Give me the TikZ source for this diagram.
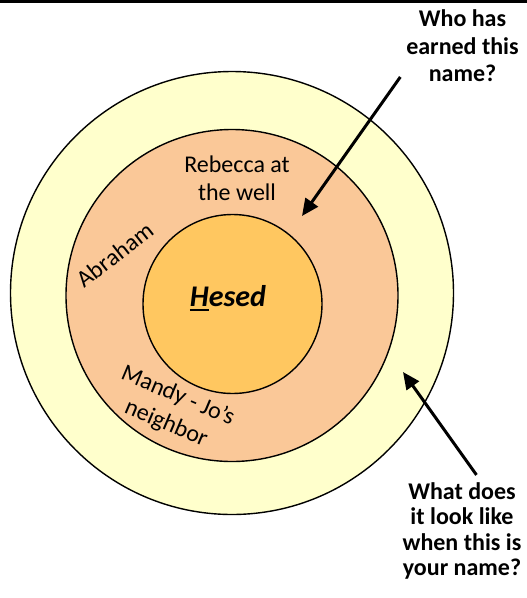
\documentclass[tikz,border=0pt]{standalone}
\usepackage{fontspec}
\setmainfont{Carlito}
\usepackage{tikz}
\usetikzlibrary{arrows.meta,positioning}
\definecolor{ringpale}{HTML}{FFFFCC}
\definecolor{ringpeach}{HTML}{FAC898}
\definecolor{ringgold}{HTML}{FFC760}
\newcommand{\thickul}[1]{{\setbox0\hbox{#1}\rlap{\rule[-5pt]{\wd0}{1.8pt}}#1}}

\begin{document}
\begin{tikzpicture}[x=1pt,y=-1pt,
  ring/.style={circle,draw=black,line width=1.4pt,inner sep=0pt},
  lbl/.style={font=\fontsize{24}{28}\selectfont,align=center,inner sep=0pt},
  ask/.style={font=\bfseries\fontsize{24}{27.5}\selectfont,align=center,inner sep=0pt},
  ar/.style={-{Triangle[length=17pt,width=15pt]},line width=3pt,draw=black}]

\useasboundingbox (0,0) rectangle (527,598);
\draw[line width=2.5pt] (0,1.25) -- (527,1.25);

\node[ring,fill=ringpale,minimum size=443pt]  (outer) at (232,293)   {};
\node[ring,fill=ringpeach,minimum size=332pt] (mid)   at (232,295.5) {};
\node[ring,fill=ringgold,minimum size=179pt]  (core)  at (232.5,304) {};

\node[anchor=base,font=\bfseries\itshape\fontsize{30}{34}\selectfont] (hesed) at (228,306) {\thickul{H}esed};
\node[lbl]              (rebecca) at (237,178) {Rebecca at\\the well};
\node[lbl,rotate=38]    (abraham) at (115,255) {Abraham};
\node[lbl,rotate=-23,font=\fontsize{24}{30}\selectfont] (mandy) at (172,410) {Mandy - Jo’s\\neighbor};

\node[ask] (q1) at (462.5,46) {Who has\\earned this\\name?};
\node[ask,font=\bfseries\fontsize{24}{25.5}\selectfont] (q2) at (462,531) {What does\\it look like\\when this is\\your name?};

\coordinate (tip1) at (302,216);
\coordinate (tip2) at (403,372);

\draw[ar,shorten <=10pt] (q1.202) -- (tip1);
\draw[ar,shorten <=9pt] (q2.68.6) -- (tip2);
\end{tikzpicture}
\end{document}
